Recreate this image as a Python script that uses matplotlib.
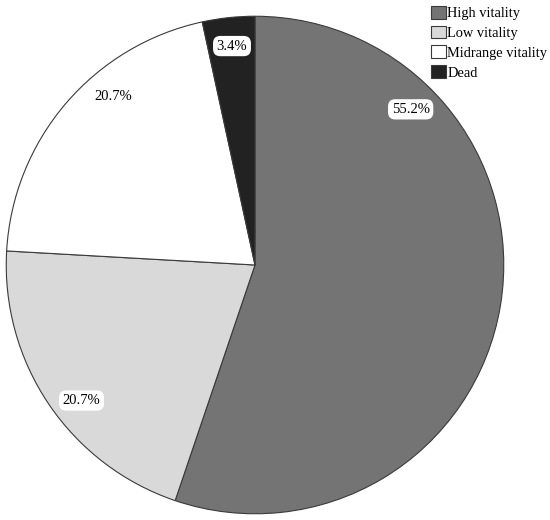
import matplotlib
matplotlib.use("Agg")
import numpy as np
import matplotlib.pyplot as plt
from matplotlib.patches import FancyBboxPatch

# data
labels = ["High vitality", "Low vitality", "Midrange vitality", "Dead"]
shares = [55.2, 20.7, 20.7, 3.4]
colors = ["#747474", "#d9d9d9", "#ffffff", "#222222"]
# angle (deg) where each percentage label sits
label_angles = [45, 218, 130, 96]

plt.rcParams["font.family"] = ["Liberation Serif", "DejaVu Serif"]

fig = plt.figure(figsize=(5.5, 5.2), dpi=100)
ax = fig.add_axes([5 / 550, 5 / 520, 500 / 550, 500 / 520])

wedges, _ = ax.pie(
    shares, colors=colors, startangle=90, counterclock=False, radius=1,
    wedgeprops=dict(edgecolor="#3a3a3a", linewidth=0.8))

for v, a in zip(shares, label_angles):
    r = 0.885
    x, y = r * np.cos(np.radians(a)), r * np.sin(np.radians(a))
    ax.text(x, y, f"{v:.1f}%", ha="center", va="center", fontsize=10.5,
            bbox=dict(boxstyle="round,pad=0.25,rounding_size=0.5",
                      facecolor="white", edgecolor="none"))

ax.set_xlim(-1.005, 1.005)
ax.set_ylim(-1.005, 1.005)
ax.set_aspect("equal")
ax.axis("off")

# legend with rounded square markers
handles = [FancyBboxPatch((0, 0), 1, 1, boxstyle="round,pad=0,rounding_size=0.3",
                          facecolor=c, edgecolor="#3a3a3a", linewidth=0.8)
           for c in colors]
fig.legend(handles, labels, loc="upper left", bbox_to_anchor=(424 / 550, 1.003),
           frameon=False, fontsize=10.4, handlelength=1.0, handleheight=1.0,
           handletextpad=0.12, labelspacing=0.38, borderaxespad=0.1)

fig.savefig("out.png", dpi=100)
